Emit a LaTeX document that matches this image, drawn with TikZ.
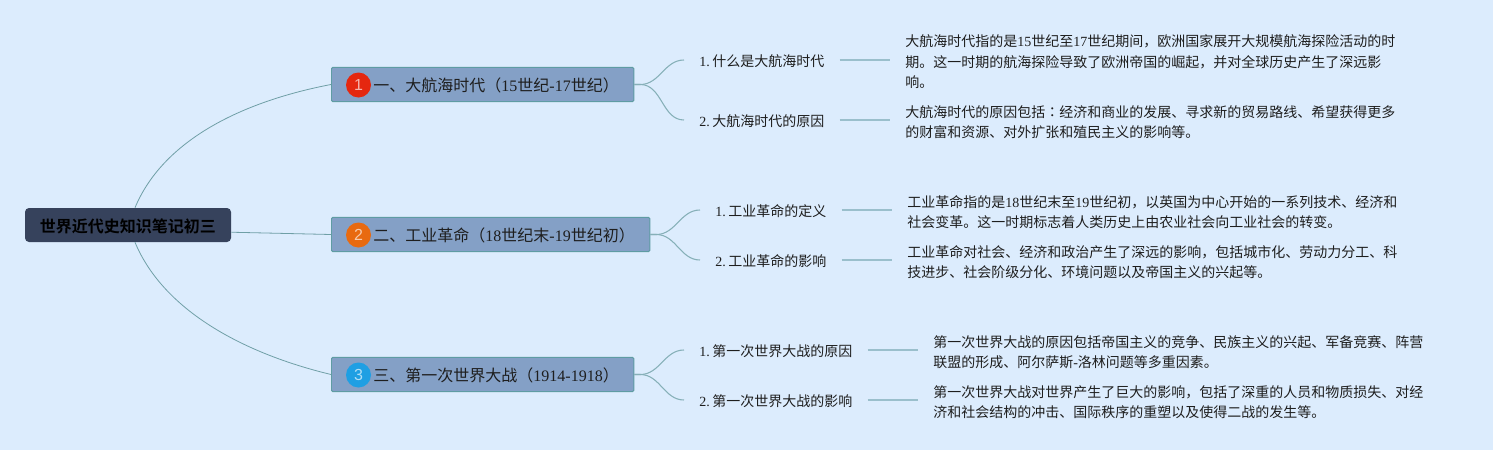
\documentclass[tikz,border=0pt]{standalone}
\usepackage{fontspec}
\setmainfont{Noto Sans CJK SC}[BoldFont={Noto Sans CJK SC Bold}]
\newfontfamily\latinfont{Liberation Serif}
\newfontfamily\badgefont{Liberation Sans}
\newfontfamily\colonfont{Noto Sans CJK TC}
\newcommand{\lat}[1]{{\latinfont #1}}
\newcommand{\num}[1]{{\latinfont #1.}\hspace{2pt}}
\definecolor{pagebg}{HTML}{DCECFD}
\definecolor{rootfill}{HTML}{36425C}
\definecolor{branchfill}{HTML}{84A0C6}
\definecolor{branchedge}{HTML}{5F9CA3}
\definecolor{curveline}{HTML}{6F9FA6}
\definecolor{twigline}{HTML}{86B0B8}
\definecolor{leafline}{HTML}{9ABFCC}
\definecolor{inktext}{HTML}{1E1E1E}
\definecolor{badgered}{HTML}{E5270F}
\definecolor{badgeorange}{HTML}{E86A10}
\definecolor{badgeblue}{HTML}{1F9FE3}
\tikzset{
	rootbox/.style={draw=none, fill=rootfill, rounded corners=3pt, minimum width=154.5pt, minimum height=25.5pt, inner sep=0pt, text height=12.6pt, text depth=2pt, font=\fontsize{12pt}{14pt}\selectfont\bfseries, text=black},
	branchbox/.style={draw=branchedge, fill=branchfill, rounded corners=1pt, line width=0.7pt, minimum height=25.75pt, inner sep=0pt, text height=12.6pt, text depth=2pt, font=\fontsize{12pt}{14pt}\selectfont, text=inktext},
	badge/.style={circle, minimum size=18.75pt, inner sep=0pt, text=white, text opacity=0.65, font=\fontsize{12pt}{14pt}\badgefont},
	leafnode/.style={inner xsep=11.25pt, inner ysep=2pt, text height=11pt, text depth=1.5pt, font=\fontsize{10.5pt}{15.4pt}\selectfont, text=inktext},
	detailnode/.style={inner xsep=11.25pt, inner ysep=0pt, align=left, font=\fontsize{10.5pt}{15.4pt}\selectfont, text=inktext},
	curve/.style={draw=curveline, line width=0.6pt},
	twig/.style={draw=twigline, line width=0.8pt},
	leafbar/.style={draw=leafline, line width=1.1pt}
}
\begin{document}
\begin{tikzpicture}[x=0.75pt, y=-0.75pt]
	\useasboundingbox[fill=pagebg] (0,0) rectangle (1493,450);

	\node[rootbox] (root) at (128,225) {世界近代史知识笔记初三};

	% first branch
	\node[branchbox, anchor=west, text width=226.75pt] (b1) at (331,84.5) {\hspace*{31.5pt}一、大航海时代（\lat{15}世纪\lat{-17}世纪）};
	\node[badge, fill=badgered] (n1) at (358.5,85) {1};
	\node[leafnode, anchor=west] (l1) at (684,60) {\num{1}什么是大航海时代};
	\node[leafnode, anchor=west] (l2) at (684,120) {\num{2}大航海时代的原因};
	\node[detailnode, anchor=west] (d1) at (890,62) {大航海时代指的是\lat{15}世纪至\lat{17}世纪期间，欧洲国家展开大规模航海探险活动的时\\期。这一时期的航海探险导致了欧洲帝国的崛起，并对全球历史产生了深远影\\响。};
	\node[detailnode, anchor=west] (d2) at (890,122) {大航海时代的原因包括{\colonfont ：}经济和商业的发展、寻求新的贸易路线、希望获得更多\\的财富和资源、对外扩张和殖民主义的影响等。};

	% second branch
	\node[branchbox, anchor=west, text width=238.75pt] (b2) at (331,234.5) {\hspace*{31.5pt}二、工业革命（\lat{18}世纪末\lat{-19}世纪初）};
	\node[badge, fill=badgeorange] (n2) at (358.5,235) {2};
	\node[leafnode, anchor=west] (l3) at (700,210) {\num{1}工业革命的定义};
	\node[leafnode, anchor=west] (l4) at (700,260) {\num{2}工业革命的影响};
	\node[detailnode, anchor=west] (d3) at (892,212) {工业革命指的是\lat{18}世纪末至\lat{19}世纪初，以英国为中心开始的一系列技术、经济和\\社会变革。这一时期标志着人类历史上由农业社会向工业社会的转变。};
	\node[detailnode, anchor=west] (d4) at (892,262) {工业革命对社会、经济和政治产生了深远的影响，包括城市化、劳动力分工、科\\技进步、社会阶级分化、环境问题以及帝国主义的兴起等。};

	% third branch
	\node[branchbox, anchor=west, text width=226.75pt] (b3) at (331,374.5) {\hspace*{31.5pt}三、第一次世界大战（\lat{1914-1918}）};
	\node[badge, fill=badgeblue] (n3) at (358.5,375) {3};
	\node[leafnode, anchor=west] (l5) at (684,350) {\num{1}第一次世界大战的原因};
	\node[leafnode, anchor=west] (l6) at (684,400) {\num{2}第一次世界大战的影响};
	\node[detailnode, anchor=west] (d5) at (918,352) {第一次世界大战的原因包括帝国主义的竞争、民族主义的兴起、军备竞赛、阵营\\联盟的形成、阿尔萨斯\lat{-}洛林问题等多重因素。};
	\node[detailnode, anchor=west] (d6) at (918,402) {第一次世界大战对世界产生了巨大的影响，包括了深重的人员和物质损失、对经\\济和社会结构的冲击、国际秩序的重塑以及使得二战的发生等。};

	% root curves
	\draw[curve] (root.68) .. controls (165,136) and (250,100) .. (b1.west);
	\draw[curve] (root.-4.4) -- (b2.west);
	\draw[curve] (root.-68) .. controls (165,314) and (250,355) .. (b3.west);

	% branch curves
	\draw[twig] (b1.east) -- ++(6,0) to[out=0, in=180] (l1.west);
	\draw[twig] (b1.east) -- ++(6,0) to[out=0, in=180] (l2.west);
	\draw[twig] (b2.east) -- ++(6,0) to[out=0, in=180] (l3.west);
	\draw[twig] (b2.east) -- ++(6,0) to[out=0, in=180] (l4.west);
	\draw[twig] (b3.east) -- ++(6,0) to[out=0, in=180] (l5.west);
	\draw[twig] (b3.east) -- ++(6,0) to[out=0, in=180] (l6.west);

	% leaf bars
	\draw[leafbar] (l1.east) -- (l1.east -| d1.west);
	\draw[leafbar] (l2.east) -- (l2.east -| d2.west);
	\draw[leafbar] (l3.east) -- (l3.east -| d3.west);
	\draw[leafbar] (l4.east) -- (l4.east -| d4.west);
	\draw[leafbar] (l5.east) -- (l5.east -| d5.west);
	\draw[leafbar] (l6.east) -- (l6.east -| d6.west);
\end{tikzpicture}
\end{document}
